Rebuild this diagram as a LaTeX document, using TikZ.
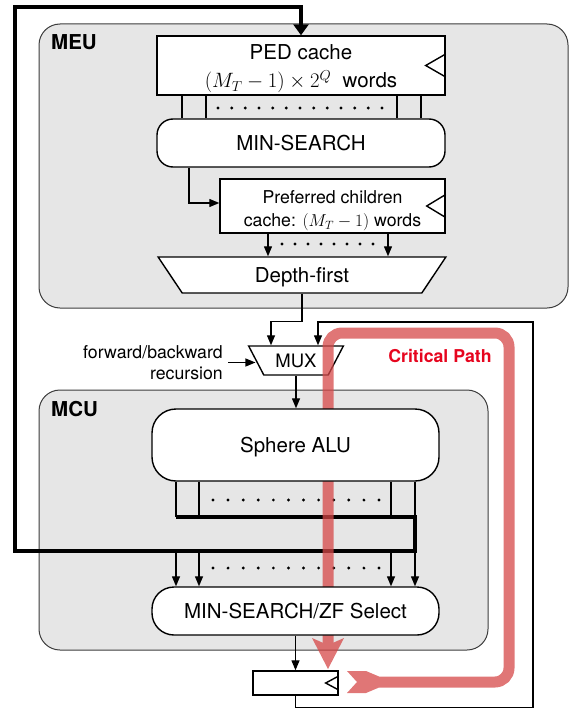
\documentclass[tikz,border=0pt]{standalone}
\usepackage{fontspec}
\setmainfont{TeX Gyre Heros}
\usetikzlibrary{arrows.meta,shapes.geometric,calc}

\definecolor{unitgray}{RGB}{230,230,230}
\definecolor{unitedge}{RGB}{60,60,60}
\definecolor{critline}{RGB}{214,72,72}
\definecolor{crittext}{RGB}{230,5,30}

\newcommand\fsBig{\fontsize{20.5}{24}\selectfont}
\newcommand\fsMid{\fontsize{17.7}{21}\selectfont}

\pgfdeclarelayer{bg}
\pgfdeclarelayer{wires}
\pgfdeclarelayer{crit}
\pgfsetlayers{bg,wires,crit,main}

\tikzset{
  unit/.style={draw=unitedge, fill=unitgray, rounded corners=21pt, line width=1pt},
  box/.style={draw, fill=white, line width=1.4pt, inner sep=0pt, font=\fsBig},
  oneline/.style={text height=14.8pt, text depth=0pt},
  wire/.style={line width=1.3pt},
  arr/.style={wire, -{Triangle[width=8pt,length=10pt]}},
  busloop/.style={line width=4pt, -{Triangle[width=15pt,length=11pt]}},
  clk/.style={line width=1.4pt},
  dot/.style={fill=black},
  unitlabel/.style={font=\bfseries\fsBig, anchor=west, inner sep=0pt},
}

\begin{document}
\begin{tikzpicture}[x=1pt,y=-1pt]
\useasboundingbox (0,0) rectangle (574,709);

% ---------- blocks ----------
\node[box, minimum width=288pt, minimum height=59pt, align=center] (ped) at (301,65.5)
  {\rule{0pt}{22pt}PED cache\\[4pt]$(M_T-1)\times 2^Q$\ \ words};
\node[box, oneline, rounded corners=16pt, minimum width=288pt, minimum height=48pt] (mins) at (301,143) {MIN-SEARCH};
\node[box, minimum width=225pt, minimum height=54pt, align=center, font=\fsMid] (pref) at (332.5,206)
  {\rule{0pt}{23pt}Preferred children\\[2pt]cache: $(M_T-1)$ words};
\node[box, oneline, trapezium, trapezium left angle=122.6, trapezium right angle=122.6,
      trapezium stretches=true, minimum width=288pt, minimum height=36pt] (df) at (302,275) {Depth-first};

\node[font=\fsMid, align=right, anchor=east, inner sep=0pt] (fb) at (223,362.5) {forward/backward\\recursion};

\node[box, oneline, rounded corners=24pt, minimum width=287pt, minimum height=72pt] (alu) at (295.5,445) {Sphere ALU};
\node[box, oneline, rounded corners=22pt, minimum width=287pt, minimum height=48pt] (sel) at (295.5,611) {MIN-SEARCH/ZF Select};
\node[box, minimum width=85pt, minimum height=24pt] (reg) at (295.5,683) {};

\node[font=\bfseries\fsMid, text=crittext, inner sep=0pt] (cp) at (440,356) {Critical Path};

% clock marks
\draw[clk] ($(ped.east)+(0,-11.5)$) -- ++(-20,11.5) -- ++(20,11.5);
\draw[clk] ($(pref.east)+(0,-11.5)$) -- ++(-19,11.5) -- ++(19,11.5);
\draw[clk] ($(reg.east)+(0,-7)$) -- ++(-13,7) -- ++(13,7);

% ---------- unit frames ----------
\begin{pgfonlayer}{bg}
  \node[unit, minimum width=529pt, minimum height=284pt] (meu) at (303.5,166) {};
  \node[unit, minimum width=449pt, minimum height=260pt] (mcu) at (263.5,520) {};
  \node[unitlabel] (meulbl) at (51,42) {MEU};
  \node[unitlabel] (mculbl) at (51,409) {MCU};
\end{pgfonlayer}

% ---------- wiring ----------
\coordinate (mergeL) at (176,517);
\coordinate (mergeR) at (415,517);
\coordinate (splitR) at (415,551);
\coordinate (loopBL) at (15,551);
\coordinate (loopTL) at (15,7);
\coordinate (loopR) at (533,322);

\begin{pgfonlayer}{wires}
  \node[box, trapezium, trapezium left angle=126, trapezium right angle=126,
        trapezium stretches=true, minimum width=95pt, minimum height=29pt,
        font=\fontsize{18.5}{22}\selectfont, text height=13.3pt, text depth=0pt] (mux) at (296,360.5) {MUX};

  % PED cache to MIN-SEARCH bus
  \foreach \dx in {-119,-95,96,120}
    \draw[wire] ([xshift=\dx pt]ped.south) -- ([xshift=\dx pt]mins.north);
  \foreach \i in {0,...,12}
    \fill[dot] (218+\i*13.667,108) circle (1.6);

  % MIN-SEARCH to preferred children cache
  \draw[arr] ([xshift=-112pt]mins.south) |- ([yshift=3pt]pref.west);

  % preferred children cache to depth-first
  \foreach \dx in {-64.5,55.5}
    \draw[arr] ([xshift=\dx pt]pref.south) -- ([xshift=\dx pt]pref.south |- df.north);
  \foreach \i in {0,...,7}
    \fill[dot] (282+\i*13,244) circle (1.6);

  % depth-first to MUX
  \draw[arr] (df.south) -- ++(0,28) -| ([xshift=-25pt]mux.north);
  % recursion select
  \draw[arr] ([xshift=5pt]fb.east) -- (fb.east -| mux.west);
  % MUX to sphere ALU
  \draw[arr] (mux.south) -- (mux.south |- alu.north);

  % sphere ALU outputs merged into the wide bus
  \foreach \dx in {-119.5,-96.5,95.5,119.5}
    \draw[wire] ([xshift=\dx pt]alu.south) -- ([xshift=\dx pt]alu.south |- mergeL);
  \foreach \i in {0,...,11}
    \fill[dot] (213+\i*15.09,500) circle (1.6);

  \draw[busloop] (mergeL) -- (mergeR) -- (splitR) -- (loopBL) -- (loopTL)
    -- (loopTL -| ped.north) -- (ped.north);

  % bus into MIN-SEARCH/ZF select
  \foreach \dx in {-119.5,-96.5,95.5,119.5}
    \draw[arr] ([xshift=\dx pt]sel.north |- splitR) -- ([xshift=\dx pt]sel.north);
  \foreach \i in {0,...,11}
    \fill[dot] (213+\i*15.09,568) circle (1.6);

  % select to register, register back to MUX
  \draw[arr] (sel.south) -- (reg.north);
  \draw[arr] (reg.south) -- ++(0,12) -| (loopR) -| ([xshift=22pt]mux.north);
\end{pgfonlayer}

% ---------- critical path ----------
\begin{pgfonlayer}{crit}
  \begin{scope}[transparency group, opacity=0.75]
    \draw[critline, line width=11pt, rounded corners=14pt]
      (379,682) -- (509,682) -- (509,333) -- (328,333) -- (328,646);
    \fill[critline] (312,638) -- (328,645) -- (344,638) -- (328,669) -- cycle;
    \fill[critline] (347,671) -- (366,671) -- (379,676.5) -- (379,687.5)
      -- (366,693) -- (347,693) -- (357,682) -- cycle;
  \end{scope}
\end{pgfonlayer}
\end{tikzpicture}
\end{document}
